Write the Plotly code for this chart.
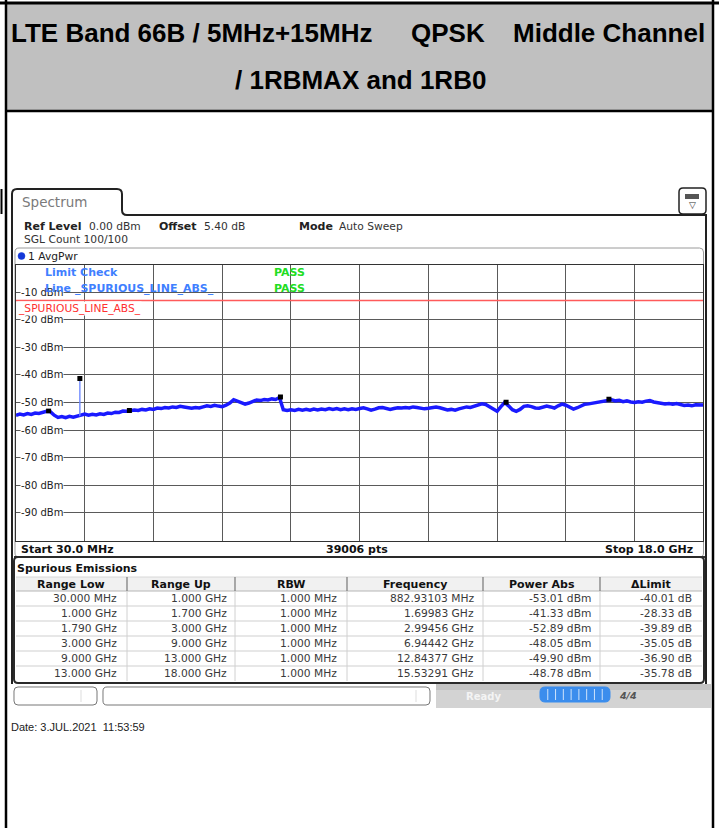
import numpy as np
import plotly.graph_objects as go

W, H = 719, 828

# ---------------- data ----------------
start_ghz = 0.03
stop_ghz = 18.0
limit_dbm = -13.0

trace_dbm = [
    -54.6, -54.2, -54.5, -54.0, -54.3, -53.8, -54.0, -53.6, -53.2, -53.3,
    -54.6, -55.4, -55.1, -55.5, -55.0, -55.3, -54.9, -54.5, -54.2, -54.6,
    -54.3, -54.5, -54.1, -54.3, -53.8, -54.0, -53.5, -53.6, -53.1, -53.2,
    -52.9, -52.7, -52.9, -52.5, -52.7, -52.3, -52.5, -52.0, -52.2, -51.8,
    -52.0, -51.6, -51.8, -51.4, -51.6, -51.9, -52.1, -51.8, -52.0, -51.6,
    -51.2, -51.4, -51.0, -51.3, -51.5, -51.0, -50.2, -49.0, -49.5, -50.1,
    -50.6, -50.2, -49.6, -49.1, -49.3, -48.9, -49.1, -48.7, -48.9, -48.2,
    -52.6, -52.9, -52.6, -52.9, -52.5, -52.8, -52.5, -52.8, -52.4, -52.7,
    -52.4, -52.6, -52.2, -52.5, -52.2, -52.6, -52.3, -52.6, -52.3, -52.5,
    -52.2, -51.9, -52.3, -52.8, -52.4, -51.9, -51.8, -52.2, -52.5, -52.2,
    -51.9, -52.0, -51.8, -52.0, -51.6, -51.8, -52.0, -52.3, -52.1, -51.8,
    -51.6, -51.9, -52.3, -52.7, -52.5, -52.8, -52.3, -51.9, -51.6, -51.8,
    -51.4, -51.0, -50.5, -50.7, -51.5, -52.6, -53.2, -51.5, -50.0, -51.2,
    -52.6, -53.2, -52.5, -51.4, -51.2, -51.5, -52.0, -52.1, -51.7, -51.3,
    -51.6, -52.0, -51.2, -50.6, -51.0, -51.8, -52.4, -51.9, -51.2, -50.6,
    -50.5, -50.3, -50.0, -49.8, -49.5, -49.2, -49.0, -49.4, -49.2, -49.7,
    -49.4, -49.8, -50.0, -49.7, -49.9, -49.5, -49.3, -49.8, -50.1, -50.3,
    -50.5, -50.4, -50.6, -50.4, -50.8, -51.1, -50.9, -51.2, -50.8, -51.0, -50.9,
]

spike_ghz = [1.6985, 1.69983, 1.7012]
spike_dbm = [-55.0, -41.33, -54.6]

marker_ghz = [0.88293103, 1.69983, 2.99456, 6.94442, 12.84377, 15.53291]
marker_dbm = [-53.01, -41.33, -52.89, -48.05, -49.90, -48.78]

y_tick_dbm = [-10, -20, -30, -40, -50, -60, -70, -80, -90]
y_tick_labels = ["-10 dBm", "-20 dBm", "-30 dBm", "-40 dBm", "-50 dBm",
                 "-60 dBm", "-70 dBm", "-80 dBm", "-90 dBm"]

col_headers = ["Range Low", "Range Up", "RBW", "Frequency", "Power Abs", "ΔLimit"]
range_low = ["30.000 MHz", "1.000 GHz", "1.790 GHz", "3.000 GHz", "9.000 GHz", "13.000 GHz"]
range_up = ["1.000 GHz", "1.700 GHz", "3.000 GHz", "9.000 GHz", "13.000 GHz", "18.000 GHz"]
rbw = ["1.000 MHz"] * 6
freq_txt = ["882.93103 MHz", "1.69983 GHz", "2.99456 GHz", "6.94442 GHz", "12.84377 GHz", "15.53291 GHz"]
power_abs = ["-53.01 dBm", "-41.33 dBm", "-52.89 dBm", "-48.05 dBm", "-49.90 dBm", "-48.78 dBm"]
delta_limit = ["-40.01 dB", "-28.33 dB", "-39.89 dB", "-35.05 dB", "-36.90 dB", "-35.78 dB"]

title_line1 = ["LTE Band 66B / 5MHz+15MHz", "QPSK", "Middle Channel"]
title_line2 = "/ 1RBMAX and 1RB0"

# ---------------- helpers ----------------
def X(p):
    return p / W

def Y(p):
    return 1 - p / H

shapes = []
annotations = []

def line(x0, y0, x1, y1, color="#000", width=1, layer="above"):
    shapes.append(dict(type="line", xref="paper", yref="paper",
                       x0=X(x0), y0=Y(y0), x1=X(x1), y1=Y(y1),
                       line=dict(color=color, width=width), layer=layer))

def rect(x0, y0, x1, y1, fill=None, color=None, width=0, layer="below"):
    shapes.append(dict(type="rect", xref="paper", yref="paper",
                       x0=X(x0), y0=Y(y0), x1=X(x1), y1=Y(y1),
                       fillcolor=fill if fill else "rgba(0,0,0,0)",
                       line=dict(color=color if color else "rgba(0,0,0,0)", width=width),
                       layer=layer))

def P(x, y):
    return f"{X(x):.5f},{Y(y):.5f}"

def rrect(x0, y0, x1, y1, r, fill=None, color="#000", width=1, layer="below"):
    d = (f"M {P(x0 + r, y0)} L {P(x1 - r, y0)} Q {P(x1, y0)} {P(x1, y0 + r)} "
         f"L {P(x1, y1 - r)} Q {P(x1, y1)} {P(x1 - r, y1)} L {P(x0 + r, y1)} "
         f"Q {P(x0, y1)} {P(x0, y1 - r)} L {P(x0, y0 + r)} Q {P(x0, y0)} {P(x0 + r, y0)} Z")
    shapes.append(dict(type="path", xref="paper", yref="paper", path=d,
                       fillcolor=fill if fill else "rgba(0,0,0,0)",
                       line=dict(color=color, width=width), layer=layer))

def txt(x, y, s, size=11, color="#222", anchor="left", family="DejaVu Sans",
        bg=None, bold=False):
    if bold:
        s = f"<b>{s}</b>"
    a = dict(x=X(x), y=Y(y), xref="paper", yref="paper", text=s, showarrow=False,
             xanchor=anchor, yanchor="middle", borderpad=0,
             font=dict(family=family, size=size, color=color))
    if bg:
        a["bgcolor"] = bg
    annotations.append(a)

# ---------------- outer document table ----------------
rect(6, 4, 713, 110, fill="#c0c0c0")
line(0, 3, 719, 3, "#000", 3)
line(6, 0, 6, 828, "#000", 2.5)
line(713, 0, 713, 828, "#000", 2.5)
line(6, 111, 713, 111, "#000", 2.5)
line(1.5, 189, 1.5, 214, "#000", 2)

txt(10, 33, title_line1[0], 26, "#000", "left", "Liberation Sans", bold=True)
txt(410, 33, title_line1[1], 26, "#000", "left", "Liberation Sans", bold=True)
txt(706, 33, title_line1[2], 26, "#000", "right", "Liberation Sans", bold=True)
txt(360, 80, title_line2, 26, "#000", "center", "Liberation Sans", bold=True)

# ---------------- analyzer window ----------------
tab = (f"M {P(12, 684)} L {P(12, 194)} Q {P(12, 189)} {P(17, 189)} L {P(117, 189)} "
       f"Q {P(122, 189)} {P(122, 194)} L {P(122, 210)} Q {P(122, 215)} {P(127, 215)} "
       f"L {P(706, 215)} L {P(706, 684)}")
shapes.append(dict(type="path", xref="paper", yref="paper", path=tab,
                   line=dict(color="#222", width=2), layer="below"))
txt(21, 202, "Spectrum", 13.5, "#7a7a7a")

# icon at top right
rrect(679, 188, 706, 214, 4, fill="#ffffff", color="#222", width=1.5, layer="above")
rect(685, 194, 699, 199, fill="#555", layer="above")
txt(692.5, 205, "▽", 9, "#333", "center")

txt(23, 226, "Ref Level", 11, "#222", bold=True)
txt(88, 226, "0.00 dBm", 10.7, "#333")
txt(158, 226, "Offset", 11, "#222", bold=True)
txt(203, 226, "5.40 dB", 10.7, "#333")
txt(298, 226, "Mode", 11, "#222", bold=True)
txt(338, 226, "Auto Sweep", 10.7, "#333")
txt(23, 240, "SGL Count 100/100", 10.7, "#333")

# plot container box
rrect(15, 248, 703.5, 557, 4, fill=None, color="#9a9a9a", width=1, layer="below")
shapes.append(dict(type="circle", xref="paper", yref="paper",
                   x0=X(18), y0=Y(252.5), x1=X(25), y1=Y(259.5),
                   fillcolor="#1438d8", line=dict(color="#1438d8", width=0.5), layer="above"))
txt(26.5, 256, "1 AvgPwr", 10.7, "#222")

# bottom info row
txt(20, 549, "Start 30.0 MHz", 11, "#111", bold=True)
txt(357, 549, "39006 pts", 11, "#111", "center", bold=True)
txt(694, 549, "Stop 18.0 GHz", 11, "#111", "right", bold=True)
line(14, 557, 705, 557, "#333", 2)

# y tick labels
for v, lab in zip(y_tick_dbm, y_tick_labels):
    annotations.append(dict(x=X(20), y=v, xref="paper", yref="y", text=lab,
                            showarrow=False, xanchor="left", yanchor="middle",
                            bgcolor="#ffffff", borderpad=0,
                            font=dict(family="DejaVu Sans", size=10, color="#222")))

# limit texts
txt(44, 272, "Limit Check", 11, "#3f80ff", bold=True)
txt(273, 272, "PASS", 11, "#22dd22", bold=True)
txt(44, 288, "Line _SPURIOUS_LINE_ABS_", 11, "#3f80ff", bold=True)
txt(273, 288, "PASS", 11, "#22dd22", bold=True)
txt(16.5, 308, "_SPURIOUS_LINE_ABS_", 10.7, "#ff3030", bg="#ffffff")

# ---------------- spurious emissions table ----------------
col_edges = [15, 127, 235, 347, 483, 600, 702]
col_right = [118, 228, 338, 475, 592, 693]
row_edges = [591, 606, 621, 636, 651, 666, 681]

rect(15, 558, 703, 682, fill="#ffffff", layer="below")
rect(16, 577, 702, 591, fill="#f1f1f1", layer="below")
for ye in row_edges[1:-1]:
    line(16, ye, 702, ye, "#cfcfcf", 1)
line(16, 591, 702, 591, "#b5b5b5", 1)
line(16, 577, 702, 577, "#d8d8d8", 1)
for xe in col_edges[1:-1]:
    line(xe, 577, xe, 591, "#777", 1.2)
    line(xe, 591, xe, 681, "#d0d0d0", 1)
rrect(14, 557, 704, 683, 4, fill=None, color="#2a2a2a", width=2, layer="above")
txt(16, 568, "Spurious Emissions", 11, "#111", bold=True)

for i, hname in enumerate(col_headers):
    cx = (col_edges[i] + col_edges[i + 1]) / 2
    txt(cx, 584, hname, 11, "#111", "center", bold=True)

columns = [range_low, range_up, rbw, freq_txt, power_abs, delta_limit]
for ci, col in enumerate(columns):
    for ri, val in enumerate(col):
        cy = (row_edges[ri] + row_edges[ri + 1]) / 2
        txt(col_right[ci], cy, val, 10.7, "#3a3a3a", "right")

# ---------------- status bar ----------------
rect(436, 684, 711, 708, fill="#d3d3d3", layer="below")
rect(436, 684, 711, 690, fill="#c4c4c4", layer="below")
rrect(14, 687, 97, 705, 4, fill="#ffffff", color="#777", width=1)
rrect(103, 687, 430, 705, 4, fill="#ffffff", color="#777", width=1)
line(81, 690, 81, 702, "#ddd", 1)
line(416, 690, 416, 702, "#ddd", 1)
txt(483, 696, "Ready", 10, "#f4f4f4", "center", bold=True)
rrect(540, 687, 610, 702, 5, fill="#3b8ded", color="#3b8ded", width=1, layer="above")
for k in range(1, 9):
    xs = 540 + k * 70 / 9
    line(xs, 689, xs, 700, "#cfe3fb", 1)
txt(628, 695, "<i>4/4</i>", 9.5, "#555", "center", bold=True)

# date
txt(10, 727, "Date: 3.JUL.2021\u00a0\u00a011:53:59", 11, "#222", "left", "Liberation Sans")

# ---------------- traces ----------------
x_trace = np.linspace(start_ghz, stop_ghz, len(trace_dbm))

fig = go.Figure()
fig.add_trace(go.Scatter(x=[start_ghz, stop_ghz], y=[limit_dbm, limit_dbm], mode="lines",
                         line=dict(color="#ff5a5a", width=1.5), hoverinfo="skip"))
fig.add_trace(go.Scatter(x=x_trace, y=trace_dbm, mode="lines",
                         line=dict(color="#1a1aff", width=3.5), hoverinfo="skip"))
fig.add_trace(go.Scatter(x=spike_ghz, y=spike_dbm, mode="lines",
                         line=dict(color="#6a86ff", width=1.3), hoverinfo="skip"))
fig.add_trace(go.Scatter(x=marker_ghz, y=marker_dbm, mode="markers",
                         marker=dict(symbol="square", size=5, color="#000"), hoverinfo="skip"))

axis_common = dict(showgrid=True, gridcolor="#5a5a5a", gridwidth=1, zeroline=False,
                   showticklabels=False, ticks="", showline=True, linecolor="#333",
                   linewidth=1, mirror=True, fixedrange=True)

fig.update_layout(
    width=W, height=H,
    margin=dict(l=0, r=0, t=0, b=0),
    paper_bgcolor="#ffffff",
    plot_bgcolor="rgba(0,0,0,0)",
    showlegend=False,
    xaxis=dict(domain=[X(16), X(703.3)], range=[start_ghz, stop_ghz],
               tickmode="linear", tick0=start_ghz, dtick=(stop_ghz - start_ghz) / 10,
               **axis_common),
    yaxis=dict(domain=[Y(540.5), Y(264.5)], range=[-100, 0],
               tickmode="linear", tick0=0, dtick=10, **axis_common),
    shapes=shapes,
    annotations=annotations,
)

fig.write_html(
    "out.html",
    config={"displayModeBar": False},
    post_script="document.body.style.margin='0';document.body.style.overflow='hidden';",
)
